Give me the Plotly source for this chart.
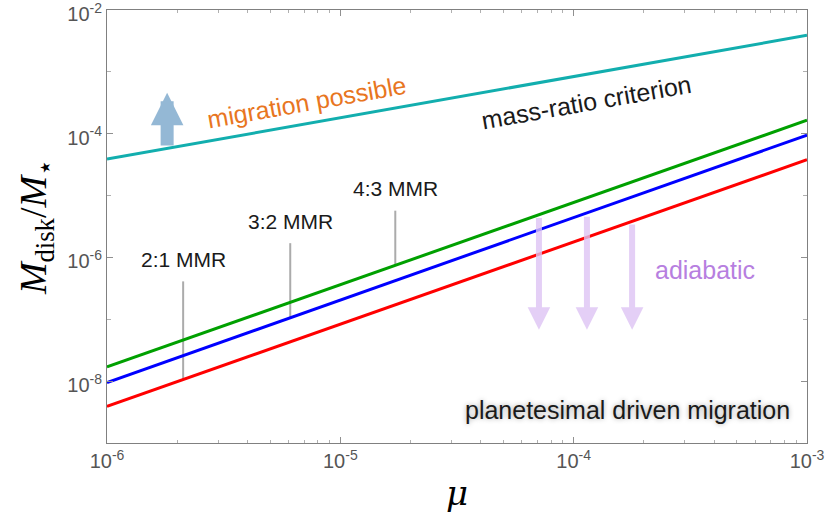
import numpy as np
import plotly.graph_objects as go

# planet-to-star mass ratio at the two ends of the plotted range
mu_ends = [1e-6, 1e-3]

# disk mass limits (M_disk / M_star) at the ends of the range
mass_ratio_crit = [3.9e-5, 3.9e-3]
green_limit = [1.7e-8, 1.65e-4]
blue_limit = [9.5e-9, 9.5e-5]
red_limit = [3.9e-9, 3.8e-5]

# resonance markers
mmr_labels = ["2:1 MMR", "3:2 MMR", "4:3 MMR"]
mmr_mu = [2.12e-6, 6.1e-6, 1.72e-5]
mmr_low = [1.06e-8, 1.06e-7, 7.5e-7]
mmr_high = [4.1e-7, 1.7e-6, 5.7e-6]

# "adiabatic" arrows
adiabatic_mu = [7.1e-5, 1.14e-4, 1.78e-4]
adiabatic_start = [4.6e-6, 4.8e-6, 3.6e-6]
adiabatic_end = [6.8e-8, 6.8e-8, 6.8e-8]

# "migration possible" arrow
up_mu = 1.81e-6
up_start = 6.1e-5
up_end = 4.6e-4

x_ticks = [1e-6, 1e-5, 1e-4, 1e-3]
x_ticktext = ["10<sup>-6</sup>", "10<sup>-5</sup>", "10<sup>-4</sup>", "10<sup>-3</sup>"]
y_ticks = [1e-2, 1e-4, 1e-6, 1e-8]
y_ticktext = ["10<sup>-2</sup>", "10<sup>-4</sup>", "10<sup>-6</sup>", "10<sup>-8</sup>"]

fig = go.Figure()

# MMR markers first so the coloured lines sit on top
for m, lo, hi in zip(mmr_mu, mmr_low, mmr_high):
    fig.add_trace(go.Scatter(x=[m, m], y=[lo, hi], mode="lines",
                             line=dict(color="#ababab", width=2),
                             showlegend=False, hoverinfo="skip"))

for vals, col in [(mass_ratio_crit, "#12aeae"), (red_limit, "#ff0000"),
                  (blue_limit, "#0000ff"), (green_limit, "#00a000")]:
    fig.add_trace(go.Scatter(x=mu_ends, y=vals, mode="lines",
                             line=dict(color=col, width=3),
                             showlegend=False, hoverinfo="skip"))

annotations = []

# arrows (annotations on log axes take log10 positions)
for m, s, e in zip(adiabatic_mu, adiabatic_start, adiabatic_end):
    annotations.append(dict(
        x=np.log10(m), y=np.log10(e), ax=np.log10(m), ay=np.log10(s),
        xref="x", yref="y", axref="x", ayref="y", text="",
        showarrow=True, arrowhead=2, arrowwidth=6, arrowsize=0.75,
        arrowcolor="rgba(222,196,244,0.8)"))

annotations.append(dict(
    x=np.log10(up_mu), y=np.log10(up_end), ax=np.log10(up_mu), ay=np.log10(up_start),
    xref="x", yref="y", axref="x", ayref="y", text="",
    showarrow=True, arrowhead=2, arrowwidth=13, arrowsize=0.5,
    arrowcolor="rgba(130,172,206,0.85)"))

for lab, m, hi in zip(mmr_labels, mmr_mu, mmr_high):
    annotations.append(dict(
        x=np.log10(m), y=np.log10(hi), xref="x", yref="y", text=lab,
        showarrow=False, yanchor="middle", yshift=22,
        font=dict(size=21, color="#1a1a1a")))

annotations += [
    dict(x=np.log10(7.2e-6), y=np.log10(3.27e-4), xref="x", yref="y",
         text="migration possible", showarrow=False, textangle=-10,
         font=dict(size=25, color="#e8761f")),
    dict(x=np.log10(1.14e-4), y=np.log10(3.27e-4), xref="x", yref="y",
         text="mass-ratio criterion", showarrow=False, textangle=-10,
         font=dict(size=25, color="#1a1a1a")),
    dict(x=np.log10(3.66e-4), y=np.log10(6.3e-7), xref="x", yref="y",
         text="adiabatic", showarrow=False,
         font=dict(size=25, color="#b77fe0")),
    dict(x=0.979, y=0.04, xref="x domain", yref="y domain",
         xanchor="right", yanchor="bottom",
         text="planetesimal driven migration", showarrow=False,
         bgcolor="white",
         font=dict(size=25, color="#1a1a1a",
                   shadow="0px 0px 5px rgba(0,0,0,0.35)")),
]

axis_common = dict(
    type="log", showgrid=False, zeroline=False, automargin=False,
    showline=True, linecolor="#808080", linewidth=1, mirror="allticks",
    ticks="inside", ticklen=6, tickcolor="#909090",
    ticklabeloverflow="allow",
    tickfont=dict(size=20, color="#555555"),
)

fig.update_layout(
    width=831, height=513,
    margin=dict(l=107, r=24, t=10, b=70),
    paper_bgcolor="white", plot_bgcolor="white",
    font=dict(family="Liberation Sans, Arial, sans-serif"),
    annotations=annotations,
    xaxis=dict(
        axis_common, range=[-6, -3], tickvals=x_ticks, ticktext=x_ticktext,
        minor=dict(ticks="inside", ticklen=3, tickcolor="#b0b0b0",
                   tickvals=[k * 10.0 ** e for e in range(-6, -3) for k in range(2, 10)]),
        title=dict(text="<i>μ</i>", standoff=10,
                   font=dict(family="DejaVu Serif, serif", size=34, color="black")),
    ),
    yaxis=dict(
        axis_common, range=[-9, -2], tickvals=y_ticks, ticktext=y_ticktext,
        ticklabelshift=4,
        minor=dict(ticks="inside", ticklen=4, tickcolor="#b0b0b0",
                   tickvals=[1e-3, 1e-5, 1e-7, 1e-9]),
        title=dict(text="<i>M</i><sub>disk</sub>/<i>M</i><sub>⋆</sub>", standoff=8,
                   font=dict(family="Liberation Serif, serif", size=38, color="black")),
    ),
)

# drop the default page margin so the figure sits at the window's corner
fig.write_html("out.html", config={"displayModeBar": False},
               post_script="document.body.style.margin='0px';")
